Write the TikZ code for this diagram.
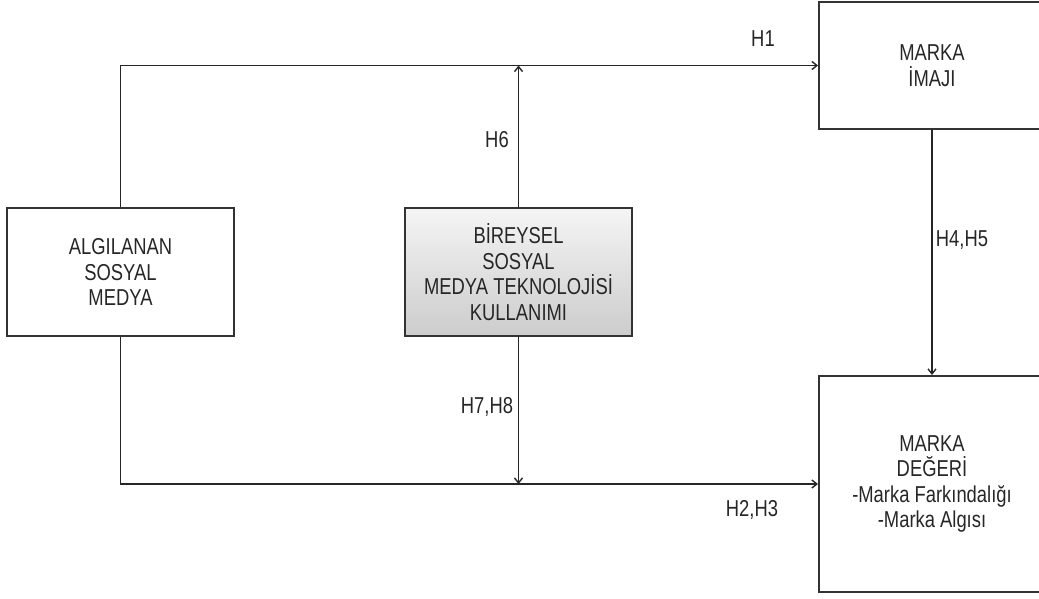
\documentclass[tikz,border=0pt]{standalone}
\usepackage{fontspec}
\setmainfont{Liberation Sans}[FakeStretch=0.8]
\usetikzlibrary{arrows.meta}
\begin{document}
\begin{tikzpicture}[x=1pt,y=-1pt,
  box/.style={draw=black!80, line width=2pt, minimum width=227pt, inner sep=0pt, align=center, font=\fontsize{23}{25.5}\selectfont, text=black!85},
  conn/.style={line width=1.6pt, draw=black!85, -{Straight Barb[length=5pt,width=8pt,line width=1.4pt]}},
  lbl/.style={font=\fontsize{23}{25}\selectfont, inner sep=1pt, text=black!85}]
\useasboundingbox (0,0) rectangle (1039,598);
\node[box, minimum height=128pt] (alg) at (120.5,272) {ALGILANAN\\SOSYAL\\MEDYA};
\node[box, minimum height=128pt, top color=gray!8, bottom color=gray!40] (bir) at (518.5,272) {BİREYSEL\\SOSYAL\\MEDYA TEKNOLOJİSİ\\KULLANIMI};
\node[box, minimum width=226pt, minimum height=127pt] (imaj) at (932,65.5) {MARKA\\İMAJI};
\node[box, minimum width=226pt, minimum height=216pt] (deger) at (932,484) {MARKA\\DEĞERİ\\-Marka Farkındalığı\\-Marka Algısı};
\coordinate (top) at (bir.north |- imaj.west);
\coordinate (bot) at (bir.south |- deger.west);
\draw[conn] (alg.north) |- (imaj.west);
\draw[conn] (alg.south) |- (deger.west);
\draw[conn] (bir.north) -- (top);
\draw[conn] (bir.south) -- (bot);
\draw[conn] (imaj.south) -- (deger.north);
\node[lbl] (h1) at (763,39) {H1};
\node[lbl] (h6) at (497,140) {H6};
\node[lbl] (h45) at (962,240) {H4,H5};
\node[lbl] (h78) at (487,407) {H7,H8};
\node[lbl] (h23) at (752,510) {H2,H3};
\end{tikzpicture}
\end{document}
